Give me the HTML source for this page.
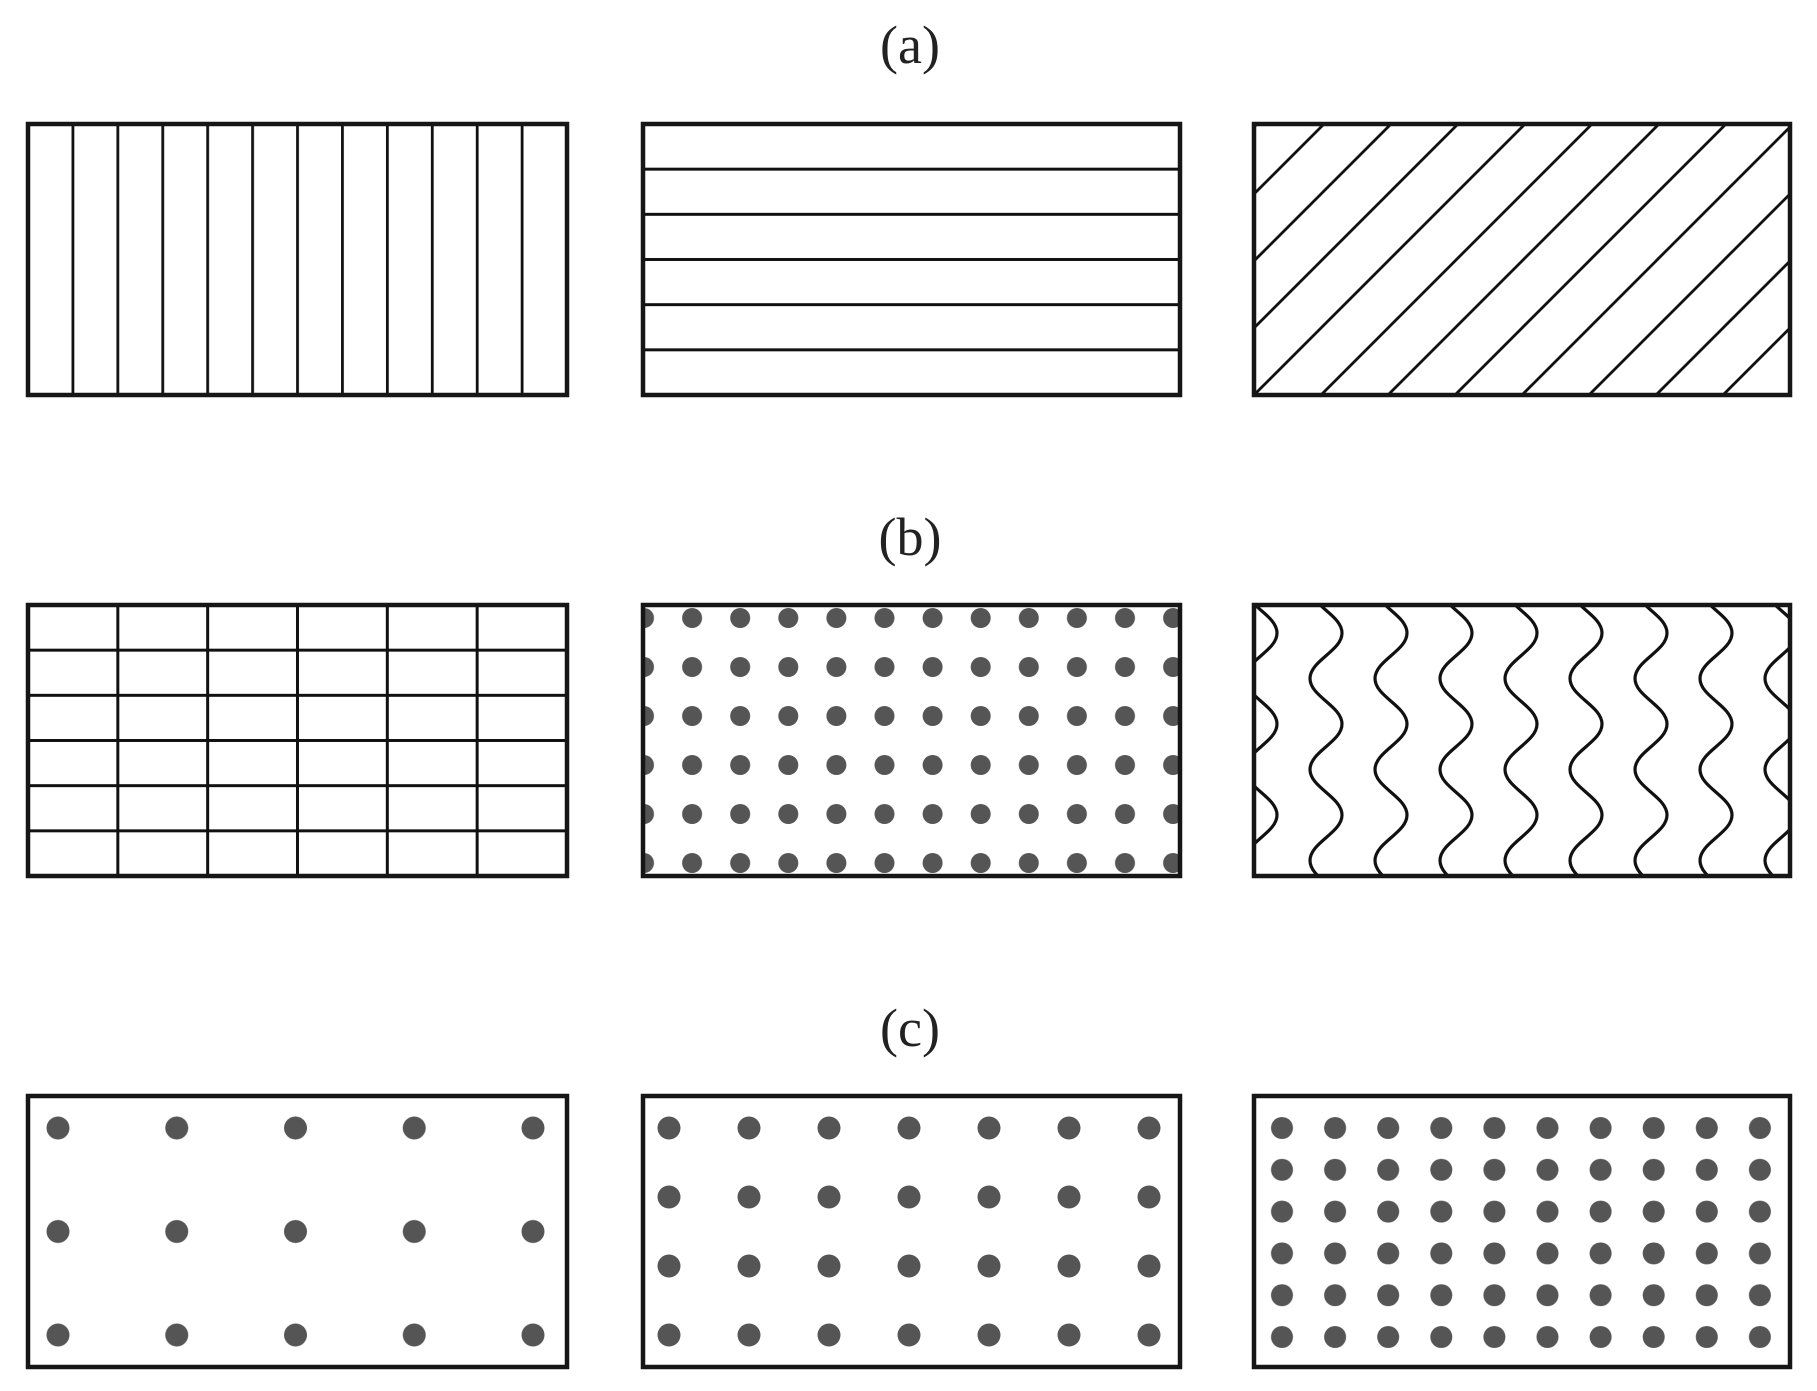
<!DOCTYPE html>
<html><head><meta charset="utf-8"><style>html,body{margin:0;padding:0;background:#fff}svg{display:block}</style></head>
<body>
<svg width="1817" height="1391" viewBox="0 0 1817 1391" xmlns="http://www.w3.org/2000/svg">
<defs>
<pattern id="pv" patternUnits="userSpaceOnUse" x="26.6" y="0" width="44.92" height="100"><line x1="1.4" y1="0" x2="1.4" y2="100" stroke="#111" stroke-width="2.8"/></pattern>
<pattern id="ph" patternUnits="userSpaceOnUse" x="0" y="122.5" width="100" height="45.17"><line x1="0" y1="1.5" x2="100" y2="1.5" stroke="#111" stroke-width="3"/></pattern>
<pattern id="pd" patternUnits="userSpaceOnUse" x="1254" y="395" width="67" height="67"><path d="M0,67 L67,0 M-10,10 L10,-10 M57,77 L77,57" stroke="#111" stroke-width="2.8"/></pattern>
<pattern id="pg" patternUnits="userSpaceOnUse" x="26.5" y="603.5" width="89.83" height="45.17"><path d="M1.5,0 V45.17 M0,1.5 H89.83" stroke="#111" stroke-width="3" fill="none"/></pattern>
<pattern id="pdot" patternUnits="userSpaceOnUse" x="619.95" y="593.5" width="48.1" height="49"><circle cx="24.05" cy="24.5" r="10" fill="#555"/></pattern>
<pattern id="pw" patternUnits="userSpaceOnUse" x="1228.5" y="633" width="65" height="91"><path d="M48.5,-2 L48.5,0 C48.5,18 16.5,27.5 16.5,45.5 C16.5,63.5 48.5,73 48.5,91 L48.5,93" stroke="#111" stroke-width="3.2" fill="none"/></pattern>
<pattern id="pc1" patternUnits="userSpaceOnUse" x="-1.375" y="1076.25" width="118.75" height="103.5"><circle cx="59.375" cy="51.75" r="11.5" fill="#555"/></pattern>
<pattern id="pc2" patternUnits="userSpaceOnUse" x="629" y="1093.5" width="80" height="69"><circle cx="40" cy="34.5" r="11.5" fill="#555"/></pattern>
<pattern id="pc3" patternUnits="userSpaceOnUse" x="1255.45" y="1107.1" width="53.1" height="41.8"><circle cx="26.55" cy="20.9" r="11" fill="#555"/></pattern>
</defs>
<g font-family="'Liberation Serif', serif" font-size="54" fill="#222" text-anchor="middle">
<text x="910" y="63">(a)</text>
<text x="910" y="555">(b)</text>
<text x="910" y="1046">(c)</text>
</g>
<g stroke="#161616" stroke-width="4.5">
<rect x="28" y="124" width="539" height="271" fill="url(#pv)"/>
<rect x="643" y="124" width="537" height="271" fill="url(#ph)"/>
<rect x="1254" y="124" width="536" height="271" fill="url(#pd)"/>
<rect x="28" y="605" width="539" height="271" fill="url(#pg)"/>
<rect x="643" y="605" width="537" height="271" fill="url(#pdot)"/>
<rect x="1254" y="605" width="536" height="271" fill="url(#pw)"/>
<rect x="28" y="1096" width="539" height="271" fill="url(#pc1)"/>
<rect x="643" y="1096" width="537" height="271" fill="url(#pc2)"/>
<rect x="1254" y="1096" width="536" height="271" fill="url(#pc3)"/>
</g>
</svg>
</body></html>
